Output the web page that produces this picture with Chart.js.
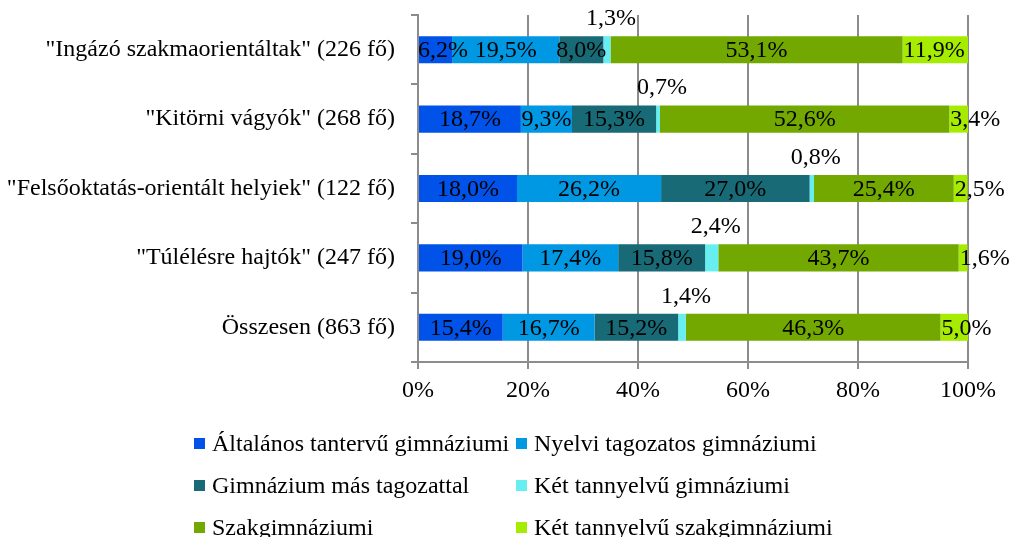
<!DOCTYPE html>
<html>
<head>
<meta charset="utf-8">
<style>
  body { margin: 0; background: #fff; }
  .chart-box { position: relative; width: 1009px; height: 537px; }
  #legend { position: absolute; left: 0; top: 0; width: 1009px; height: 537px; pointer-events: none;
    font-family: "Liberation Serif", "Times New Roman", serif; font-size: 24px; color: #000; }
  .lg-item { position: absolute; display: flex; align-items: center; white-space: nowrap; line-height: 1; }
  .lg-box { width: 11px; height: 11px; margin-right: 7px; }
</style>
</head>
<body>
<div class="chart-box">
  <canvas id="schoolTypes"></canvas>
  <div id="legend"></div>
</div>

<script src="https://cdn.jsdelivr.net/npm/chart.js"></script>
<script>
// csoportok (felülről lefelé)
const groups = [
  '"Ingázó szakmaorientáltak" (226 fő)',
  '"Kitörni vágyók" (268 fő)',
  '"Felsőoktatás-orientált helyiek" (122 fő)',
  '"Túlélésre hajtók" (247 fő)',
  'Összesen (863 fő)'
];

const seriesNames = [
  'Általános tantervű gimnáziumi',
  'Nyelvi tagozatos gimnáziumi',
  'Gimnázium más tagozattal',
  'Két tannyelvű gimnáziumi',
  'Szakgimnáziumi',
  'Két tannyelvű szakgimnáziumi'
];

const altalanos = [6.2, 18.7, 18.0, 19.0, 15.4];
const nyelvi = [19.5, 9.3, 26.2, 17.4, 16.7];
const masTagozat = [8.0, 15.3, 27.0, 15.8, 15.2];
const ketTannyelvu = [1.3, 0.7, 0.8, 2.4, 1.4];
const szakgimn = [53.1, 52.6, 25.4, 43.7, 46.3];
const ketTannyelvuSzak = [11.9, 3.4, 2.5, 1.6, 5.0];

const xTicks = [0, 20, 40, 60, 80, 100];

const colors = ['#0052e8', '#0098e2', '#176a76', '#66eef0', '#72a800', '#a6ec00'];
const allSeries = [altalanos, nyelvi, masTagozat, ketTannyelvu, szakgimn, ketTannyelvuSzak];

const FONT = '"Liberation Serif", "Times New Roman", serif';
const gray = '#8c8c8c';

// adatcímkék: a két tannyelvű gimn. a sáv fölé, az utolsó sor balra igazítva
const valueLabels = {
  id: 'valueLabels',
  afterDatasetsDraw(chart) {
    const ctx = chart.ctx;
    ctx.save();
    ctx.font = '24px ' + FONT;
    ctx.fillStyle = '#000';
    ctx.textBaseline = 'middle';
    chart.data.datasets.forEach(function(ds, i) {
      const meta = chart.getDatasetMeta(i);
      meta.data.forEach(function(bar, j) {
        const txt = ds.data[j].toFixed(1).replace('.', ',') + '%';
        const left = Math.min(bar.x, bar.base);
        const right = Math.max(bar.x, bar.base);
        const w = ctx.measureText(txt).width;
        let tx = (left + right) / 2 - w / 2;
        let ty = bar.y + 1;
        if (i === 3) {
          tx += 4;
          ty = bar.y - 31;
        } else if (i === allSeries.length - 1) {
          tx = left + 1;
        }
        if (tx < chart.chartArea.left) tx = chart.chartArea.left;
        ctx.textAlign = 'left';
        ctx.fillText(txt, tx, ty);
      });
    });
    ctx.restore();
  }
};

const ctx = document.getElementById('schoolTypes');

new Chart(ctx, {
  type: 'bar',
  data: {
    labels: groups,
    datasets: seriesNames.map(function(name, i) {
      return {
        label: name,
        data: allSeries[i],
        backgroundColor: colors[i],
        borderWidth: 0,
        categoryPercentage: 1,
        barPercentage: 0.39
      };
    })
  },
  options: {
    indexAxis: 'y',
    responsive: true,
    maintainAspectRatio: false,
    animation: false,
    layout: { padding: { top: 15, right: 41, left: 0, bottom: 0 } },
    plugins: {
      legend: { display: false },
      tooltip: { enabled: false }
    },
    scales: {
      x: {
        stacked: true,
        min: 0,
        max: 100,
        afterBuildTicks: function(scale) {
          scale.ticks = xTicks.map(function(v) { return { value: v }; });
        },
        afterFit: function(scale) { scale.height = 175; },
        ticks: {
          callback: function(v) { return v + '%'; },
          font: { family: FONT, size: 24 },
          color: '#000',
          padding: 7,
          maxRotation: 0
        },
        grid: { color: gray, lineWidth: 2, tickLength: 7 },
        border: { color: gray, width: 2 }
      },
      y: {
        stacked: true,
        afterFit: function(scale) {
          scale.width = 418;
          scale.paddingTop = 0;
          scale.paddingBottom = 0;
        },
        ticks: {
          font: { family: FONT, size: 24 },
          color: '#000',
          padding: 16
        },
        grid: { drawOnChartArea: false, color: gray, lineWidth: 2, tickLength: 7, offset: true },
        border: { color: gray, width: 2 }
      }
    }
  },
  plugins: [valueLabels]
});

// jelmagyarázat két oszlopban
const legend = document.getElementById('legend');
const colX = [194, 516];
const rowY = [443, 485, 527];
seriesNames.forEach(function(name, i) {
  const item = document.createElement('div');
  item.className = 'lg-item';
  item.style.left = colX[i % 2] + 'px';
  item.style.top = (rowY[Math.floor(i / 2)] - 12) + 'px';
  item.style.height = '24px';
  const box = document.createElement('span');
  box.className = 'lg-box';
  box.style.background = colors[i];
  const label = document.createElement('span');
  label.textContent = name;
  item.appendChild(box);
  item.appendChild(label);
  legend.appendChild(item);
});
</script>
</body>
</html>
